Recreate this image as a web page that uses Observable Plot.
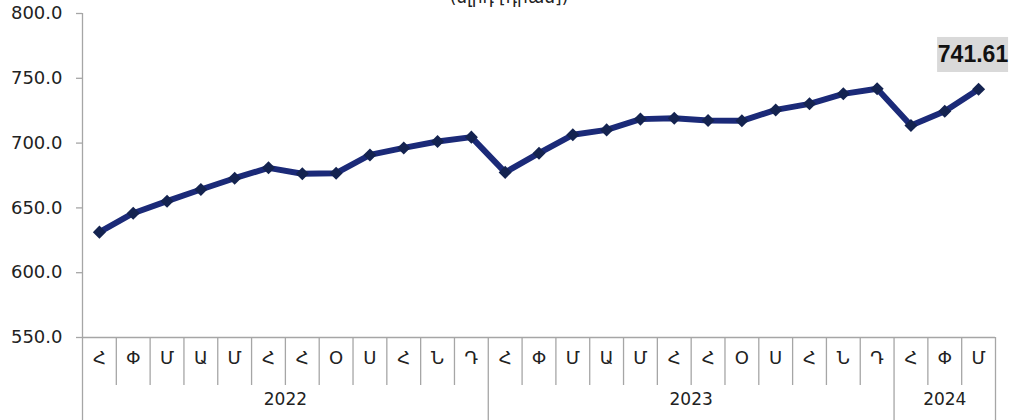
<!DOCTYPE html>
<html><head><meta charset="utf-8">
<script src="https://cdn.jsdelivr.net/npm/d3@7"></script>
<script src="https://cdn.jsdelivr.net/npm/@observablehq/plot@0.6"></script>
<style>body{margin:0;background:#fff;}</style>
</head><body><div id="chart"></div>
<script>
const months = ["Հ","Փ","Մ","Ա","Մ","Հ","Հ","Օ","Ս","Հ","Ն","Դ",
                "Հ","Փ","Մ","Ա","Մ","Հ","Հ","Օ","Ս","Հ","Ն","Դ",
                "Հ","Փ","Մ"];
const years = ["2022","2023","2024"];
const yearMonthCounts = [12,12,3];
const values = [631.3,645.9,655.2,664.2,672.9,680.9,676.3,676.8,690.9,696.3,701.2,704.6,
                677.4,692.2,706.4,710.2,718.5,719.2,717.4,717.2,725.6,730.3,738.0,741.9,
                713.6,724.6,741.61];
const yTicks = [550,600,650,700,750,800];
const titleText = "(մլրդ [դրամ])";

const points = values.map((v,i)=>({x:i+0.5, month:months[i], value:v}));
const yearBounds = [0];
yearMonthCounts.forEach(c=>yearBounds.push(yearBounds[yearBounds.length-1]+c));
const yearData = years.map((y,k)=>({label:y, x:(yearBounds[k]+yearBounds[k+1])/2}));
const monthBounds = d3.range(1, months.length).filter(b=>!yearBounds.includes(b));
const last = points[points.length-1];
const gray = "#a6a6a6";

const chart = Plot.plot({
  width:1010, height:420,
  marginLeft:82, marginRight:15, marginTop:13, marginBottom:83,
  x:{domain:[0, months.length], axis:null},
  y:{domain:[550,800], axis:null},
  style:{fontFamily:"DejaVu Sans", background:"white", color:"#222"},
  marks:[
    Plot.ruleX(monthBounds,{x:d=>d, y1:()=>550, y2:()=>550, insetBottom:-48, stroke:gray, strokeWidth:1.3}),
    Plot.ruleX(yearBounds,{x:d=>d, y1:()=>550, y2:()=>550, insetBottom:-83, stroke:gray, strokeWidth:1.3}),
    Plot.ruleX([0],{x:d=>d, stroke:gray, strokeWidth:1.3}),
    Plot.ruleY(yTicks,{y:d=>d, x1:()=>0, x2:()=>0, insetLeft:-6, stroke:gray, strokeWidth:1.3}),
    Plot.ruleY([550],{y:d=>d, x1:()=>0, x2:()=>months.length, stroke:gray, strokeWidth:1.3}),
    Plot.text(yTicks,{y:d=>d, frameAnchor:"left", dx:-20, textAnchor:"end", text:d=>d.toFixed(1), fontSize:18, fill:"#222"}),
    Plot.text(points,{x:"x", text:"month", frameAnchor:"bottom", dy:26, fontSize:18, fill:"#222"}),
    Plot.text(yearData,{x:"x", text:"label", frameAnchor:"bottom", dy:67, fontSize:17, fill:"#222"}),
    Plot.text([titleText],{frameAnchor:"top", dx:-30, dy:-23, fontSize:17, fill:"#222"}),
    Plot.line(points,{x:"x", y:"value", stroke:"#1b2a78", strokeWidth:6, strokeLinejoin:"round"}),
    Plot.dot(points,{x:"x", y:"value", symbol:"square", rotate:45, r:5.2, fill:"#142350", stroke:"none"}),
    Plot.rect([last],{x1:"x", x2:"x", y1:"value", y2:"value", insetLeft:-41, insetRight:-30, insetTop:-51.7, insetBottom:16.7, fill:"#d9d9d9"}),
    Plot.text([last],{x:"x", y:"value", text:d=>d.value.toFixed(2), dx:-5.6, dy:-34.2, fontSize:23, fontWeight:"bold", fontFamily:"Liberation Sans Narrow, Liberation Sans", fill:"#111"})
  ]
});
document.getElementById("chart").appendChild(chart);
</script>
</body></html>
